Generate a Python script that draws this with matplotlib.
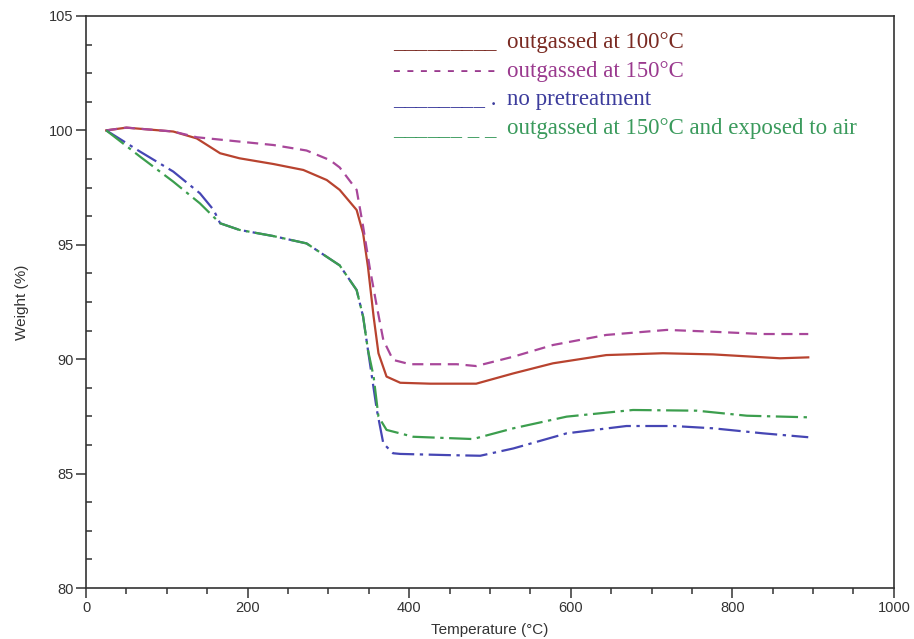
import matplotlib
matplotlib.use("Agg")
import matplotlib.pyplot as plt
from matplotlib.ticker import MultipleLocator

# TGA curves
t_100 = [25, 50, 108, 137, 166, 190, 232, 269, 298, 314, 335, 343, 349, 356, 362, 372, 389, 426, 483, 529, 578, 644, 714, 776, 859, 894]
w_100 = [100.0, 100.12, 99.95, 99.65, 99.0, 98.78, 98.53, 98.27, 97.83, 97.4, 96.52, 95.5, 94.04, 91.86, 90.26, 89.24, 88.97, 88.93, 88.93, 89.38, 89.82, 90.18, 90.26, 90.21, 90.04, 90.08]

t_150 = [25, 50, 108, 137, 190, 232, 273, 302, 314, 335, 343, 351, 360, 368, 380, 401, 459, 483, 529, 578, 644, 719, 776, 838, 894]
w_150 = [100.0, 100.12, 99.95, 99.7, 99.51, 99.36, 99.12, 98.7, 98.38, 97.4, 95.8, 94.04, 92.3, 90.84, 89.97, 89.78, 89.78, 89.7, 90.11, 90.62, 91.06, 91.28, 91.2, 91.1, 91.1]

t_none = [25, 67, 108, 141, 158, 166, 190, 232, 273, 314, 335, 343, 349, 360, 368, 380, 389, 446, 488, 529, 595, 669, 727, 776, 838, 894]
w_none = [100.0, 99.07, 98.2, 97.25, 96.52, 95.94, 95.65, 95.38, 95.06, 94.1, 93.02, 91.86, 90.4, 87.78, 86.32, 85.89, 85.86, 85.81, 85.78, 86.1, 86.76, 87.08, 87.08, 86.98, 86.76, 86.59]

t_air = [25, 67, 108, 141, 166, 190, 232, 273, 314, 335, 343, 349, 356, 362, 372, 405, 479, 529, 595, 677, 756, 818, 894]
w_air = [100.0, 98.85, 97.76, 96.81, 95.94, 95.65, 95.38, 95.06, 94.1, 93.02, 91.86, 90.4, 89.24, 87.49, 86.91, 86.61, 86.51, 86.98, 87.49, 87.78, 87.75, 87.53, 87.46]

legend_marks = ["_________", "- - - - - - - -", "________ .", "______ _ _"]
legend_labels = ["outgassed at 100°C", "outgassed at 150°C", "no pretreatment",
                 "outgassed at 150°C and exposed to air"]
legend_colors = ["#7a2a22", "#9a3a8e", "#3c3c9c", "#3a9a5c"]

fig = plt.figure(figsize=(9.14, 6.39), dpi=100)
ax = fig.add_axes([0.0941, 0.0798, 0.978 - 0.0941, 0.975 - 0.0798])

ax.plot(t_100, w_100, color="#b8432f", lw=1.6, ls="-")
ax.plot(t_150, w_150, color="#a8479a", lw=1.6, ls=(0, (5, 3)))
ax.plot(t_none, w_none, color="#4646b4", lw=1.6, ls=(0, (10, 2.5, 1.5, 2.5)))
ax.plot(t_air, w_air, color="#3c9e4e", lw=1.6, ls=(0, (10, 2.5, 1.5, 2.5)))

ax.set_xlim(0, 1000)
ax.set_ylim(80, 105)
ax.xaxis.set_major_locator(MultipleLocator(200))
ax.xaxis.set_minor_locator(MultipleLocator(50))
ax.yaxis.set_major_locator(MultipleLocator(5))
ax.yaxis.set_minor_locator(MultipleLocator(1.25))

sans = "Liberation Sans"
ax.tick_params(which="major", direction="out", length=7, width=1.1, color="#333333",
               labelsize=10.5, labelcolor="#333333", pad=2)
ax.tick_params(axis="y", which="minor", direction="in", length=4, width=1.1, color="#333333")
ax.tick_params(axis="x", which="minor", direction="out", length=4, width=1.1, color="#333333")
for lab in ax.get_xticklabels() + ax.get_yticklabels():
    lab.set_fontfamily(sans)
for s in ax.spines.values():
    s.set_linewidth(1.2)
    s.set_color("#333333")

ax.set_xlabel("Temperature (°C)", fontsize=11, family=sans, color="#333333", labelpad=6)
ax.set_ylabel("Weight (%)", fontsize=11, family=sans, color="#333333", labelpad=14)

# legend written as text, like the original
y0 = 0.953
for i in range(4):
    y = y0 - i * 0.0497
    ax.text(0.380, y, legend_marks[i], transform=ax.transAxes, color=legend_colors[i],
            family="Liberation Serif", fontsize=16.5, va="center", ha="left")
    ax.text(0.521, y, legend_labels[i], transform=ax.transAxes, color=legend_colors[i],
            family="Liberation Serif", fontsize=16.5, va="center", ha="left")

fig.savefig("out.png", dpi=100)
